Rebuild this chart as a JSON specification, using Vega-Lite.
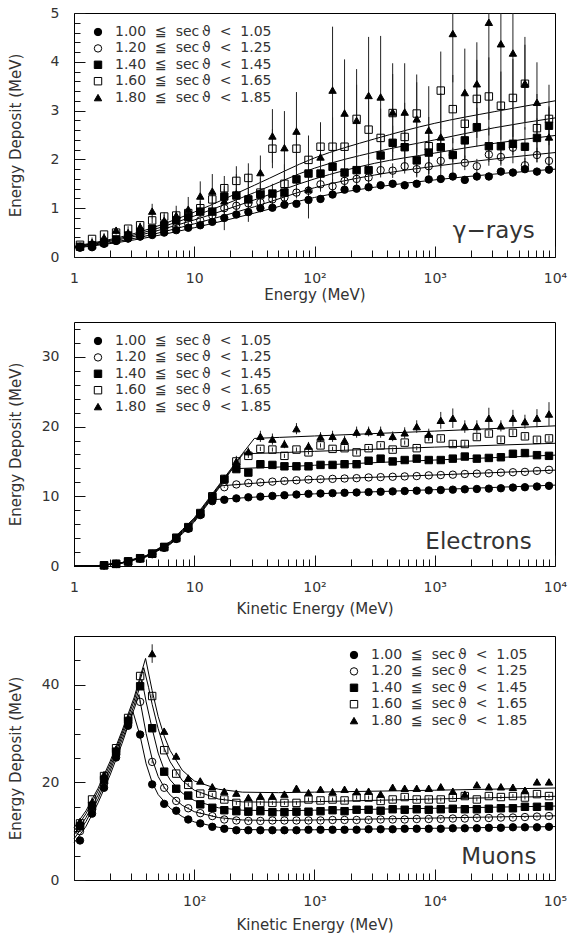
{
"$schema":"https://vega.github.io/schema/vega-lite/v6.json",
"padding":{"left":7,"top":5,"right":0,"bottom":0},
"spacing":18,
"config":{"view":{"stroke":"black","strokeWidth":1},"font":"DejaVu Sans",
"axis":{"labelFont":"DejaVu Sans","labelFontSize":14,"labelColor":"#333","titleFont":"DejaVu Sans","titleFontSize":15,"titleFontWeight":"normal","titleColor":"#333","tickColor":"#111","domain":false,"grid":false,"labelFlush":false,"labelOverlap":false},
"legend":{"title":null,"orient":"none","legendY":12,"padding":0,"symbolSize":55,"symbolStrokeWidth":1,"labelFont":"DejaVu Sans","labelFontSize":14,"labelColor":"#333","labelOffset":10,"rowPadding":2.4}},
"resolve":{"scale":{"shape":"independent","fill":"independent","stroke":"independent"}},
"datasets":{
"p1lines":[
{"s":1,"x":1,"y":0.18},{"s":1,"x":3.162,"y":0.35},{"s":1,"x":10,"y":0.6},{"s":1,"x":31.62,"y":0.9},{"s":1,"x":100,"y":1.22},{"s":1,"x":316.2,"y":1.43},{"s":1,"x":1000,"y":1.58},{"s":1,"x":3162,"y":1.7},{"s":1,"x":10000,"y":1.8},
{"s":2,"x":1,"y":0.19},{"s":2,"x":3.162,"y":0.38},{"s":2,"x":10,"y":0.68},{"s":2,"x":31.62,"y":1.03},{"s":2,"x":100,"y":1.42},{"s":2,"x":316.2,"y":1.68},{"s":2,"x":1000,"y":1.86},{"s":2,"x":3162,"y":2.01},{"s":2,"x":10000,"y":2.14},
{"s":3,"x":1,"y":0.2},{"s":3,"x":3.162,"y":0.42},{"s":3,"x":10,"y":0.76},{"s":3,"x":31.62,"y":1.17},{"s":3,"x":100,"y":1.6},{"s":3,"x":316.2,"y":1.92},{"s":3,"x":1000,"y":2.13},{"s":3,"x":3162,"y":2.33},{"s":3,"x":10000,"y":2.49},
{"s":4,"x":1,"y":0.21},{"s":4,"x":3.162,"y":0.45},{"s":4,"x":10,"y":0.84},{"s":4,"x":31.62,"y":1.32},{"s":4,"x":100,"y":1.82},{"s":4,"x":316.2,"y":2.15},{"s":4,"x":1000,"y":2.4},{"s":4,"x":3162,"y":2.65},{"s":4,"x":10000,"y":2.85},
{"s":5,"x":1,"y":0.22},{"s":5,"x":3.162,"y":0.48},{"s":5,"x":10,"y":0.92},{"s":5,"x":31.62,"y":1.47},{"s":5,"x":100,"y":2.03},{"s":5,"x":316.2,"y":2.42},{"s":5,"x":1000,"y":2.74},{"s":5,"x":3162,"y":2.98},{"s":5,"x":10000,"y":3.2}
],
"p1pts":[
{"s":1,"x":1.122,"y":0.19,"e":0.01},{"s":1,"x":1.413,"y":0.2,"e":0.01},{"s":1,"x":1.778,"y":0.27,"e":0.01},{"s":1,"x":2.239,"y":0.33,"e":0.02},{"s":1,"x":2.818,"y":0.38,"e":0.02},{"s":1,"x":3.548,"y":0.42,"e":0.02},{"s":1,"x":4.467,"y":0.45,"e":0.02},{"s":1,"x":5.623,"y":0.5,"e":0.03},{"s":1,"x":7.079,"y":0.55,"e":0.03},{"s":1,"x":8.913,"y":0.6,"e":0.03},
{"s":1,"x":11.22,"y":0.65,"e":0.04},{"s":1,"x":14.13,"y":0.72,"e":0.04},{"s":1,"x":17.78,"y":0.8,"e":0.25},{"s":1,"x":22.39,"y":0.87,"e":0.05},{"s":1,"x":28.18,"y":0.92,"e":0.05},{"s":1,"x":35.48,"y":1.0,"e":0.05},{"s":1,"x":44.67,"y":1.01,"e":0.06},{"s":1,"x":56.23,"y":1.07,"e":0.06},{"s":1,"x":70.79,"y":1.09,"e":0.06},{"s":1,"x":89.13,"y":1.17,"e":0.2},
{"s":1,"x":112.2,"y":1.19,"e":0.07},{"s":1,"x":141.3,"y":1.28,"e":0.07},{"s":1,"x":177.8,"y":1.38,"e":0.07},{"s":1,"x":223.9,"y":1.4,"e":0.07},{"s":1,"x":281.8,"y":1.43,"e":0.07},{"s":1,"x":354.8,"y":1.47,"e":0.07},{"s":1,"x":446.7,"y":1.5,"e":0.08},{"s":1,"x":562.3,"y":1.47,"e":0.08},{"s":1,"x":707.9,"y":1.5,"e":0.08},{"s":1,"x":891.3,"y":1.59,"e":0.08},
{"s":1,"x":1122,"y":1.6,"e":0.08},{"s":1,"x":1413,"y":1.65,"e":0.08},{"s":1,"x":1778,"y":1.58,"e":0.08},{"s":1,"x":2239,"y":1.65,"e":0.08},{"s":1,"x":2818,"y":1.65,"e":0.08},{"s":1,"x":3548,"y":1.75,"e":0.08},{"s":1,"x":4467,"y":1.73,"e":0.08},{"s":1,"x":5623,"y":1.8,"e":0.08},{"s":1,"x":7079,"y":1.75,"e":0.08},{"s":1,"x":8913,"y":1.79,"e":0.08},
{"s":2,"x":1.122,"y":0.21,"e":0.01},{"s":2,"x":1.413,"y":0.23,"e":0.01},{"s":2,"x":1.778,"y":0.28,"e":0.02},{"s":2,"x":2.239,"y":0.33,"e":0.02},{"s":2,"x":2.818,"y":0.38,"e":0.02},{"s":2,"x":3.548,"y":0.42,"e":0.03},{"s":2,"x":4.467,"y":0.48,"e":0.03},{"s":2,"x":5.623,"y":0.55,"e":0.04},{"s":2,"x":7.079,"y":0.62,"e":0.04},{"s":2,"x":8.913,"y":0.68,"e":0.05},
{"s":2,"x":11.22,"y":0.75,"e":0.05},{"s":2,"x":14.13,"y":0.85,"e":0.06},{"s":2,"x":17.78,"y":1.0,"e":0.08},{"s":2,"x":22.39,"y":1.05,"e":0.08},{"s":2,"x":28.18,"y":1.1,"e":0.1},{"s":2,"x":35.48,"y":1.12,"e":0.1},{"s":2,"x":44.67,"y":1.18,"e":0.1},{"s":2,"x":56.23,"y":1.22,"e":0.12},{"s":2,"x":70.79,"y":1.32,"e":0.12},{"s":2,"x":89.13,"y":1.36,"e":0.12},
{"s":2,"x":112.2,"y":1.49,"e":0.15},{"s":2,"x":141.3,"y":1.45,"e":0.15},{"s":2,"x":177.8,"y":1.56,"e":0.15},{"s":2,"x":223.9,"y":1.6,"e":0.15},{"s":2,"x":281.8,"y":1.63,"e":0.15},{"s":2,"x":354.8,"y":1.78,"e":0.15},{"s":2,"x":446.7,"y":1.77,"e":0.15},{"s":2,"x":562.3,"y":1.86,"e":0.15},{"s":2,"x":707.9,"y":1.8,"e":0.15},{"s":2,"x":891.3,"y":1.86,"e":0.15},
{"s":2,"x":1122,"y":1.97,"e":0.15},{"s":2,"x":1413,"y":2.09,"e":0.15},{"s":2,"x":1778,"y":1.93,"e":0.15},{"s":2,"x":2239,"y":1.86,"e":0.15},{"s":2,"x":2818,"y":2.1,"e":0.15},{"s":2,"x":3548,"y":2.05,"e":0.15},{"s":2,"x":4467,"y":2.24,"e":0.15},{"s":2,"x":5623,"y":1.88,"e":0.15},{"s":2,"x":7079,"y":2.09,"e":0.15},{"s":2,"x":8913,"y":1.97,"e":0.15},
{"s":3,"x":1.122,"y":0.21,"e":0.01},{"s":3,"x":1.413,"y":0.24,"e":0.02},{"s":3,"x":1.778,"y":0.3,"e":0.02},{"s":3,"x":2.239,"y":0.36,"e":0.03},{"s":3,"x":2.818,"y":0.44,"e":0.03},{"s":3,"x":3.548,"y":0.5,"e":0.04},{"s":3,"x":4.467,"y":0.58,"e":0.05},{"s":3,"x":5.623,"y":0.65,"e":0.06},{"s":3,"x":7.079,"y":0.75,"e":0.07},{"s":3,"x":8.913,"y":0.82,"e":0.08},
{"s":3,"x":11.22,"y":0.93,"e":0.1},{"s":3,"x":14.13,"y":0.93,"e":0.1},{"s":3,"x":17.78,"y":1.24,"e":0.15},{"s":3,"x":22.39,"y":1.26,"e":0.15},{"s":3,"x":28.18,"y":1.18,"e":0.15},{"s":3,"x":35.48,"y":1.28,"e":0.2},{"s":3,"x":44.67,"y":1.3,"e":0.2},{"s":3,"x":56.23,"y":1.32,"e":0.25},{"s":3,"x":70.79,"y":1.59,"e":0.25},{"s":3,"x":89.13,"y":1.71,"e":0.25},
{"s":3,"x":112.2,"y":1.71,"e":0.25},{"s":3,"x":141.3,"y":1.85,"e":0.3},{"s":3,"x":177.8,"y":1.73,"e":0.3},{"s":3,"x":223.9,"y":1.78,"e":0.3},{"s":3,"x":281.8,"y":1.78,"e":0.3},{"s":3,"x":354.8,"y":2.08,"e":0.35},{"s":3,"x":446.7,"y":2.34,"e":0.35},{"s":3,"x":562.3,"y":2.25,"e":0.35},{"s":3,"x":707.9,"y":1.98,"e":0.35},{"s":3,"x":891.3,"y":2.14,"e":0.35},
{"s":3,"x":1122,"y":2.25,"e":0.35},{"s":3,"x":1413,"y":2.09,"e":0.35},{"s":3,"x":1778,"y":2.39,"e":0.4},{"s":3,"x":2239,"y":2.66,"e":0.4},{"s":3,"x":2818,"y":2.27,"e":0.4},{"s":3,"x":3548,"y":2.27,"e":0.4},{"s":3,"x":4467,"y":2.32,"e":0.4},{"s":3,"x":5623,"y":2.26,"e":0.4},{"s":3,"x":7079,"y":2.44,"e":0.4},{"s":3,"x":8913,"y":2.69,"e":0.4},
{"s":4,"x":1.122,"y":0.25,"e":0.02},{"s":4,"x":1.413,"y":0.37,"e":0.03},{"s":4,"x":1.778,"y":0.46,"e":0.03},{"s":4,"x":2.239,"y":0.5,"e":0.04},{"s":4,"x":2.818,"y":0.58,"e":0.05},{"s":4,"x":3.548,"y":0.65,"e":0.05},{"s":4,"x":4.467,"y":0.75,"e":0.06},{"s":4,"x":5.623,"y":0.83,"e":0.08},{"s":4,"x":7.079,"y":0.85,"e":0.1},{"s":4,"x":8.913,"y":0.9,"e":0.12},
{"s":4,"x":11.22,"y":1.0,"e":0.15},{"s":4,"x":14.13,"y":1.18,"e":0.2},{"s":4,"x":17.78,"y":1.41,"e":0.25},{"s":4,"x":22.39,"y":1.56,"e":0.3},{"s":4,"x":28.18,"y":1.62,"e":0.3},{"s":4,"x":35.48,"y":1.32,"e":0.3},{"s":4,"x":44.67,"y":2.22,"e":0.4},{"s":4,"x":56.23,"y":1.5,"e":0.4},{"s":4,"x":70.79,"y":2.22,"e":0.45},{"s":4,"x":89.13,"y":1.99,"e":0.5},
{"s":4,"x":112.2,"y":2.26,"e":0.5},{"s":4,"x":141.3,"y":2.26,"e":0.6},{"s":4,"x":177.8,"y":2.26,"e":0.6},{"s":4,"x":223.9,"y":2.83,"e":0.7},{"s":4,"x":281.8,"y":2.61,"e":0.6},{"s":4,"x":354.8,"y":2.44,"e":0.6},{"s":4,"x":446.7,"y":2.95,"e":0.8},{"s":4,"x":562.3,"y":2.46,"e":0.7},{"s":4,"x":707.9,"y":2.94,"e":0.8},{"s":4,"x":891.3,"y":2.27,"e":0.6},
{"s":4,"x":1122,"y":3.41,"e":0.8},{"s":4,"x":1413,"y":3.03,"e":0.7},{"s":4,"x":1778,"y":2.73,"e":0.7},{"s":4,"x":2239,"y":3.24,"e":0.8},{"s":4,"x":2818,"y":3.29,"e":0.8},{"s":4,"x":3548,"y":3.1,"e":0.7},{"s":4,"x":4467,"y":3.26,"e":0.8},{"s":4,"x":5623,"y":3.55,"e":0.8},{"s":4,"x":7079,"y":2.64,"e":0.7},{"s":4,"x":8913,"y":2.83,"e":0.7},
{"s":5,"x":1.122,"y":0.22,"e":0.03},{"s":5,"x":1.413,"y":0.3,"e":0.03},{"s":5,"x":1.778,"y":0.4,"e":0.04},{"s":5,"x":2.239,"y":0.55,"e":0.05},{"s":5,"x":2.818,"y":0.5,"e":0.06},{"s":5,"x":3.548,"y":0.62,"e":0.08},{"s":5,"x":4.467,"y":0.94,"e":0.15},{"s":5,"x":5.623,"y":0.75,"e":0.12},{"s":5,"x":7.079,"y":0.85,"e":0.2},{"s":5,"x":8.913,"y":0.98,"e":0.25},
{"s":5,"x":11.22,"y":1.25,"e":0.3},{"s":5,"x":14.13,"y":1.35,"e":0.35},{"s":5,"x":17.78,"y":1.15,"e":0.3},{"s":5,"x":22.39,"y":1.3,"e":0.4},{"s":5,"x":28.18,"y":1.22,"e":0.5},{"s":5,"x":35.48,"y":1.73,"e":0.35},{"s":5,"x":44.67,"y":2.48,"e":0.55},{"s":5,"x":56.23,"y":2.24,"e":0.75},{"s":5,"x":70.79,"y":2.58,"e":0.8},{"s":5,"x":89.13,"y":1.39,"e":0.6},
{"s":5,"x":112.2,"y":2.05,"e":0.7},{"s":5,"x":141.3,"y":3.42,"e":1.3},{"s":5,"x":177.8,"y":2.95,"e":1.1},{"s":5,"x":223.9,"y":2.8,"e":1.05},{"s":5,"x":281.8,"y":3.31,"e":1.2},{"s":5,"x":354.8,"y":3.28,"e":1.25},{"s":5,"x":446.7,"y":2.97,"e":1.0},{"s":5,"x":562.3,"y":2.97,"e":1.0},{"s":5,"x":707.9,"y":2.83,"e":0.75},{"s":5,"x":891.3,"y":2.6,"e":0.9},
{"s":5,"x":1122,"y":2.46,"e":0.9},{"s":5,"x":1413,"y":4.58,"e":1.0},{"s":5,"x":1778,"y":3.37,"e":0.9},{"s":5,"x":2239,"y":3.55,"e":0.85},{"s":5,"x":2818,"y":4.81,"e":2.0},{"s":5,"x":3548,"y":4.37,"e":1.7},{"s":5,"x":4467,"y":4.18,"e":1.9},{"s":5,"x":5623,"y":3.56,"e":0.95},{"s":5,"x":7079,"y":3.17,"e":0.82},{"s":5,"x":8913,"y":2.46,"e":0.6}
],
"p2lines":[
{"s":1,"x":1,"y":0},{"s":1,"x":1.585,"y":0.04},{"s":1,"x":2.512,"y":0.4},{"s":1,"x":3.981,"y":1.3},{"s":1,"x":6.31,"y":3.1},{"s":1,"x":7.943,"y":4.6},{"s":1,"x":10,"y":6.3},{"s":1,"x":12.59,"y":8.6},{"s":1,"x":13.8,"y":9.5},{"s":1,"x":51.3,"y":10.1},{"s":1,"x":100,"y":10.35},{"s":1,"x":1000,"y":10.95},{"s":1,"x":10000,"y":11.6},
{"s":2,"x":1,"y":0},{"s":2,"x":1.585,"y":0.05},{"s":2,"x":2.512,"y":0.43},{"s":2,"x":3.981,"y":1.35},{"s":2,"x":6.31,"y":3.2},{"s":2,"x":7.943,"y":4.75},{"s":2,"x":10,"y":6.45},{"s":2,"x":12.59,"y":8.75},{"s":2,"x":15.85,"y":11.05},{"s":2,"x":16.6,"y":11.5},{"s":2,"x":51.3,"y":12.15},{"s":2,"x":100,"y":12.42},{"s":2,"x":1000,"y":13.05},{"s":2,"x":10000,"y":13.75},
{"s":3,"x":1,"y":0},{"s":3,"x":1.585,"y":0.05},{"s":3,"x":2.512,"y":0.45},{"s":3,"x":3.981,"y":1.4},{"s":3,"x":6.31,"y":3.3},{"s":3,"x":7.943,"y":4.9},{"s":3,"x":10,"y":6.6},{"s":3,"x":12.59,"y":8.9},{"s":3,"x":15.85,"y":11.2},{"s":3,"x":19.95,"y":13.5},{"s":3,"x":20.9,"y":13.95},{"s":3,"x":51.3,"y":14.2},{"s":3,"x":100,"y":14.45},{"s":3,"x":1000,"y":15.2},{"s":3,"x":10000,"y":15.9},
{"s":4,"x":1,"y":0},{"s":4,"x":1.585,"y":0.06},{"s":4,"x":2.512,"y":0.48},{"s":4,"x":3.981,"y":1.45},{"s":4,"x":6.31,"y":3.4},{"s":4,"x":7.943,"y":5.05},{"s":4,"x":10,"y":6.75},{"s":4,"x":12.59,"y":9.05},{"s":4,"x":15.85,"y":11.35},{"s":4,"x":19.95,"y":13.65},{"s":4,"x":25.12,"y":15.95},{"s":4,"x":25.7,"y":16.1},{"s":4,"x":51.3,"y":16.25},{"s":4,"x":100,"y":16.45},{"s":4,"x":1000,"y":17.05},{"s":4,"x":10000,"y":17.6},
{"s":5,"x":1,"y":0},{"s":5,"x":1.585,"y":0.06},{"s":5,"x":2.512,"y":0.5},{"s":5,"x":3.981,"y":1.5},{"s":5,"x":6.31,"y":3.5},{"s":5,"x":7.943,"y":5.2},{"s":5,"x":10,"y":6.9},{"s":5,"x":12.59,"y":9.2},{"s":5,"x":15.85,"y":11.5},{"s":5,"x":19.95,"y":13.8},{"s":5,"x":25.12,"y":16.1},{"s":5,"x":31.62,"y":18.3},{"s":5,"x":51.3,"y":18.45},{"s":5,"x":100,"y":18.65},{"s":5,"x":1000,"y":19.35},{"s":5,"x":10000,"y":20.1}
],
"p2pts":[
{"s":1,"x":1.778,"y":0.1,"e":0.05},{"s":1,"x":2.239,"y":0.29,"e":0.05},{"s":1,"x":2.818,"y":0.63,"e":0.05},{"s":1,"x":3.548,"y":1.07,"e":0.05},{"s":1,"x":4.467,"y":1.7,"e":0.1},{"s":1,"x":5.623,"y":2.62,"e":0.1},{"s":1,"x":7.079,"y":3.88,"e":0.1},{"s":1,"x":8.913,"y":5.34,"e":0.1},{"s":1,"x":11.22,"y":7.3,"e":0.1},
{"s":1,"x":14.13,"y":9.3,"e":0.1},{"s":1,"x":17.78,"y":9.5,"e":0.1},{"s":1,"x":22.39,"y":9.7,"e":0.1},{"s":1,"x":28.18,"y":9.85,"e":0.1},{"s":1,"x":35.48,"y":9.95,"e":0.1},{"s":1,"x":44.67,"y":10.05,"e":0.1},{"s":1,"x":56.23,"y":10.15,"e":0.1},{"s":1,"x":70.79,"y":10.25,"e":0.1},{"s":1,"x":89.13,"y":10.35,"e":0.1},
{"s":1,"x":112.2,"y":10.4,"e":0.1},{"s":1,"x":141.3,"y":10.45,"e":0.1},{"s":1,"x":177.8,"y":10.5,"e":0.1},{"s":1,"x":223.9,"y":10.55,"e":0.1},{"s":1,"x":281.8,"y":10.6,"e":0.1},{"s":1,"x":354.8,"y":10.65,"e":0.1},{"s":1,"x":446.7,"y":10.7,"e":0.1},{"s":1,"x":562.3,"y":10.75,"e":0.1},{"s":1,"x":707.9,"y":10.8,"e":0.1},{"s":1,"x":891.3,"y":10.85,"e":0.1},
{"s":1,"x":1122,"y":10.9,"e":0.1},{"s":1,"x":1413,"y":10.95,"e":0.1},{"s":1,"x":1778,"y":11.0,"e":0.1},{"s":1,"x":2239,"y":11.05,"e":0.1},{"s":1,"x":2818,"y":11.1,"e":0.1},{"s":1,"x":3548,"y":11.15,"e":0.1},{"s":1,"x":4467,"y":11.25,"e":0.1},{"s":1,"x":5623,"y":11.3,"e":0.1},{"s":1,"x":7079,"y":11.4,"e":0.1},{"s":1,"x":8913,"y":11.5,"e":0.1},
{"s":2,"x":1.778,"y":0.1,"e":0.05},{"s":2,"x":2.239,"y":0.3,"e":0.05},{"s":2,"x":2.818,"y":0.64,"e":0.05},{"s":2,"x":3.548,"y":1.08,"e":0.05},{"s":2,"x":4.467,"y":1.72,"e":0.1},{"s":2,"x":5.623,"y":2.66,"e":0.1},{"s":2,"x":7.079,"y":3.94,"e":0.1},{"s":2,"x":8.913,"y":5.42,"e":0.1},{"s":2,"x":11.22,"y":7.4,"e":0.1},
{"s":2,"x":14.13,"y":9.8,"e":0.1},{"s":2,"x":17.78,"y":11.3,"e":0.1},{"s":2,"x":22.39,"y":11.7,"e":0.1},{"s":2,"x":28.18,"y":11.9,"e":0.1},{"s":2,"x":35.48,"y":12.0,"e":0.1},{"s":2,"x":44.67,"y":12.1,"e":0.1},{"s":2,"x":56.23,"y":12.2,"e":0.1},{"s":2,"x":70.79,"y":12.3,"e":0.1},{"s":2,"x":89.13,"y":12.4,"e":0.1},
{"s":2,"x":112.2,"y":12.45,"e":0.1},{"s":2,"x":141.3,"y":12.5,"e":0.1},{"s":2,"x":177.8,"y":12.55,"e":0.1},{"s":2,"x":223.9,"y":12.6,"e":0.1},{"s":2,"x":281.8,"y":12.7,"e":0.1},{"s":2,"x":354.8,"y":12.75,"e":0.1},{"s":2,"x":446.7,"y":12.8,"e":0.1},{"s":2,"x":562.3,"y":12.85,"e":0.1},{"s":2,"x":707.9,"y":12.9,"e":0.1},{"s":2,"x":891.3,"y":13.0,"e":0.1},
{"s":2,"x":1122,"y":13.05,"e":0.1},{"s":2,"x":1413,"y":13.1,"e":0.1},{"s":2,"x":1778,"y":13.2,"e":0.1},{"s":2,"x":2239,"y":13.25,"e":0.1},{"s":2,"x":2818,"y":13.3,"e":0.1},{"s":2,"x":3548,"y":13.4,"e":0.1},{"s":2,"x":4467,"y":13.45,"e":0.1},{"s":2,"x":5623,"y":13.5,"e":0.1},{"s":2,"x":7079,"y":13.65,"e":0.1},{"s":2,"x":8913,"y":13.8,"e":0.1},
{"s":3,"x":1.778,"y":0.1,"e":0.05},{"s":3,"x":2.239,"y":0.3,"e":0.05},{"s":3,"x":2.818,"y":0.65,"e":0.05},{"s":3,"x":3.548,"y":1.1,"e":0.05},{"s":3,"x":4.467,"y":1.75,"e":0.1},{"s":3,"x":5.623,"y":2.7,"e":0.1},{"s":3,"x":7.079,"y":4.0,"e":0.1},{"s":3,"x":8.913,"y":5.5,"e":0.1},{"s":3,"x":11.22,"y":7.5,"e":0.1},
{"s":3,"x":14.13,"y":9.9,"e":0.15},{"s":3,"x":17.78,"y":12.4,"e":0.15},{"s":3,"x":22.39,"y":13.9,"e":0.15},{"s":3,"x":28.18,"y":13.4,"e":0.15},{"s":3,"x":35.48,"y":14.6,"e":0.15},{"s":3,"x":44.67,"y":14.5,"e":0.15},{"s":3,"x":56.23,"y":14.3,"e":0.15},{"s":3,"x":70.79,"y":14.3,"e":0.15},{"s":3,"x":89.13,"y":14.3,"e":0.15},
{"s":3,"x":112.2,"y":14.5,"e":0.15},{"s":3,"x":141.3,"y":14.5,"e":0.15},{"s":3,"x":177.8,"y":14.6,"e":0.15},{"s":3,"x":223.9,"y":14.6,"e":0.15},{"s":3,"x":281.8,"y":15.1,"e":0.15},{"s":3,"x":354.8,"y":15.4,"e":0.15},{"s":3,"x":446.7,"y":15.0,"e":0.15},{"s":3,"x":562.3,"y":15.2,"e":0.15},{"s":3,"x":707.9,"y":15.4,"e":0.15},{"s":3,"x":891.3,"y":15.2,"e":0.15},
{"s":3,"x":1122,"y":15.2,"e":0.2},{"s":3,"x":1413,"y":15.4,"e":0.2},{"s":3,"x":1778,"y":15.7,"e":0.2},{"s":3,"x":2239,"y":15.4,"e":0.2},{"s":3,"x":2818,"y":15.5,"e":0.2},{"s":3,"x":3548,"y":15.6,"e":0.2},{"s":3,"x":4467,"y":16.1,"e":0.2},{"s":3,"x":5623,"y":16.2,"e":0.2},{"s":3,"x":7079,"y":15.9,"e":0.2},{"s":3,"x":8913,"y":15.8,"e":0.2},
{"s":4,"x":1.778,"y":0.1,"e":0.05},{"s":4,"x":2.239,"y":0.31,"e":0.05},{"s":4,"x":2.818,"y":0.66,"e":0.05},{"s":4,"x":3.548,"y":1.12,"e":0.05},{"s":4,"x":4.467,"y":1.78,"e":0.1},{"s":4,"x":5.623,"y":2.74,"e":0.1},{"s":4,"x":7.079,"y":4.06,"e":0.1},{"s":4,"x":8.913,"y":5.58,"e":0.1},{"s":4,"x":11.22,"y":7.6,"e":0.1},
{"s":4,"x":14.13,"y":10.0,"e":0.2},{"s":4,"x":17.78,"y":12.5,"e":0.2},{"s":4,"x":22.39,"y":15.0,"e":0.3},{"s":4,"x":28.18,"y":15.8,"e":0.3},{"s":4,"x":35.48,"y":16.8,"e":0.3},{"s":4,"x":44.67,"y":16.7,"e":0.3},{"s":4,"x":56.23,"y":15.8,"e":0.3},{"s":4,"x":70.79,"y":16.7,"e":0.3},{"s":4,"x":89.13,"y":16.3,"e":0.3},
{"s":4,"x":112.2,"y":17.3,"e":0.3},{"s":4,"x":141.3,"y":16.8,"e":0.3},{"s":4,"x":177.8,"y":16.9,"e":0.3},{"s":4,"x":223.9,"y":16.3,"e":0.3},{"s":4,"x":281.8,"y":16.9,"e":0.3},{"s":4,"x":354.8,"y":17.3,"e":0.3},{"s":4,"x":446.7,"y":16.7,"e":0.3},{"s":4,"x":562.3,"y":17.7,"e":0.3},{"s":4,"x":707.9,"y":16.9,"e":0.3},{"s":4,"x":891.3,"y":18.2,"e":0.3},
{"s":4,"x":1122,"y":18.3,"e":0.4},{"s":4,"x":1413,"y":17.5,"e":0.4},{"s":4,"x":1778,"y":17.5,"e":0.4},{"s":4,"x":2239,"y":18.5,"e":0.4},{"s":4,"x":2818,"y":19.0,"e":0.4},{"s":4,"x":3548,"y":18.1,"e":0.4},{"s":4,"x":4467,"y":19.1,"e":0.4},{"s":4,"x":5623,"y":18.6,"e":0.4},{"s":4,"x":7079,"y":18.1,"e":0.4},{"s":4,"x":8913,"y":18.3,"e":0.4},
{"s":5,"x":1.778,"y":0.11,"e":0.05},{"s":5,"x":2.239,"y":0.31,"e":0.05},{"s":5,"x":2.818,"y":0.67,"e":0.05},{"s":5,"x":3.548,"y":1.13,"e":0.05},{"s":5,"x":4.467,"y":1.8,"e":0.1},{"s":5,"x":5.623,"y":2.78,"e":0.1},{"s":5,"x":7.079,"y":4.12,"e":0.1},{"s":5,"x":8.913,"y":5.66,"e":0.1},{"s":5,"x":11.22,"y":7.7,"e":0.1},
{"s":5,"x":14.13,"y":10.1,"e":0.2},{"s":5,"x":17.78,"y":12.6,"e":0.4},{"s":5,"x":22.39,"y":15.0,"e":0.8},{"s":5,"x":28.18,"y":16.4,"e":0.6},{"s":5,"x":35.48,"y":18.6,"e":0.8},{"s":5,"x":44.67,"y":18.2,"e":0.8},{"s":5,"x":56.23,"y":17.5,"e":0.6},{"s":5,"x":70.79,"y":19.7,"e":0.8},{"s":5,"x":89.13,"y":17.2,"e":0.6},
{"s":5,"x":112.2,"y":18.5,"e":0.7},{"s":5,"x":141.3,"y":18.6,"e":0.8},{"s":5,"x":177.8,"y":18.0,"e":0.7},{"s":5,"x":223.9,"y":19.2,"e":0.8},{"s":5,"x":281.8,"y":19.3,"e":0.7},{"s":5,"x":354.8,"y":19.2,"e":0.8},{"s":5,"x":446.7,"y":18.6,"e":0.7},{"s":5,"x":562.3,"y":19.1,"e":0.8},{"s":5,"x":707.9,"y":20.0,"e":0.9},{"s":5,"x":891.3,"y":18.9,"e":0.8},
{"s":5,"x":1122,"y":20.9,"e":1.2},{"s":5,"x":1413,"y":21.2,"e":1.4},{"s":5,"x":1778,"y":20.0,"e":0.9},{"s":5,"x":2239,"y":20.0,"e":0.9},{"s":5,"x":2818,"y":21.2,"e":1.5},{"s":5,"x":3548,"y":20.1,"e":0.8},{"s":5,"x":4467,"y":21.2,"e":1.2},{"s":5,"x":5623,"y":20.7,"e":1.0},{"s":5,"x":7079,"y":21.2,"e":1.3},{"s":5,"x":8913,"y":21.8,"e":1.7}
],
"p3lines":[
{"s":1,"x":10,"y":7.6},{"s":1,"x":12.59,"y":11.0},{"s":1,"x":15.85,"y":15.8},{"s":1,"x":19.95,"y":21.5},{"s":1,"x":25.12,"y":28.0},{"s":1,"x":28.18,"y":31.6},{"s":1,"x":30.9,"y":34.5},{"s":1,"x":35.48,"y":29.5},{"s":1,"x":39.81,"y":23.8},{"s":1,"x":44.67,"y":20.0},{"s":1,"x":50.12,"y":17.5},{"s":1,"x":63.1,"y":14.7},{"s":1,"x":79.43,"y":13.0},{"s":1,"x":100,"y":11.9},{"s":1,"x":158.5,"y":10.8},{"s":1,"x":251.2,"y":10.35},{"s":1,"x":501.2,"y":10.25},{"s":1,"x":1000,"y":10.3},{"s":1,"x":10000,"y":10.6},{"s":1,"x":100000,"y":10.95},
{"s":2,"x":10,"y":8.4},{"s":2,"x":12.59,"y":12.0},{"s":2,"x":15.85,"y":16.6},{"s":2,"x":19.95,"y":22.3},{"s":2,"x":25.12,"y":28.8},{"s":2,"x":31.62,"y":35.0},{"s":2,"x":34.67,"y":38.0},{"s":2,"x":39.81,"y":30.0},{"s":2,"x":44.67,"y":24.8},{"s":2,"x":50.12,"y":21.2},{"s":2,"x":56.23,"y":19.0},{"s":2,"x":63.1,"y":17.4},{"s":2,"x":79.43,"y":15.3},{"s":2,"x":100,"y":14.0},{"s":2,"x":158.5,"y":12.8},{"s":2,"x":251.2,"y":12.3},{"s":2,"x":501.2,"y":12.2},{"s":2,"x":1000,"y":12.3},{"s":2,"x":10000,"y":12.7},{"s":2,"x":100000,"y":13.15},
{"s":3,"x":10,"y":9.2},{"s":3,"x":12.59,"y":12.8},{"s":3,"x":15.85,"y":17.4},{"s":3,"x":19.95,"y":23.0},{"s":3,"x":25.12,"y":29.5},{"s":3,"x":31.62,"y":35.8},{"s":3,"x":36.73,"y":41.0},{"s":3,"x":39.81,"y":36.5},{"s":3,"x":44.67,"y":31.0},{"s":3,"x":50.12,"y":26.0},{"s":3,"x":56.23,"y":22.6},{"s":3,"x":63.1,"y":20.5},{"s":3,"x":79.43,"y":17.8},{"s":3,"x":100,"y":16.3},{"s":3,"x":158.5,"y":14.8},{"s":3,"x":251.2,"y":14.3},{"s":3,"x":501.2,"y":14.2},{"s":3,"x":1000,"y":14.3},{"s":3,"x":10000,"y":14.7},{"s":3,"x":100000,"y":15.15},
{"s":4,"x":10,"y":10.0},{"s":4,"x":12.59,"y":13.6},{"s":4,"x":15.85,"y":18.2},{"s":4,"x":19.95,"y":23.7},{"s":4,"x":25.12,"y":30.1},{"s":4,"x":31.62,"y":36.7},{"s":4,"x":38.02,"y":43.5},{"s":4,"x":41.69,"y":39.5},{"s":4,"x":44.67,"y":36.0},{"s":4,"x":50.12,"y":31.0},{"s":4,"x":56.23,"y":27.0},{"s":4,"x":63.1,"y":24.2},{"s":4,"x":79.43,"y":20.4},{"s":4,"x":100,"y":18.4},{"s":4,"x":158.5,"y":16.6},{"s":4,"x":251.2,"y":16.0},{"s":4,"x":501.2,"y":15.95},{"s":4,"x":1000,"y":16.05},{"s":4,"x":10000,"y":16.6},{"s":4,"x":100000,"y":17.15},
{"s":5,"x":10,"y":10.7},{"s":5,"x":12.59,"y":14.2},{"s":5,"x":15.85,"y":18.8},{"s":5,"x":19.95,"y":24.3},{"s":5,"x":25.12,"y":30.6},{"s":5,"x":31.62,"y":37.4},{"s":5,"x":39.36,"y":45.4},{"s":5,"x":44.67,"y":38.8},{"s":5,"x":50.12,"y":33.5},{"s":5,"x":56.23,"y":29.5},{"s":5,"x":63.1,"y":26.5},{"s":5,"x":79.43,"y":22.5},{"s":5,"x":100,"y":20.3},{"s":5,"x":158.5,"y":18.6},{"s":5,"x":251.2,"y":18.0},{"s":5,"x":501.2,"y":17.9},{"s":5,"x":1000,"y":18.0},{"s":5,"x":10000,"y":18.4},{"s":5,"x":100000,"y":18.85}
],
"p3pts":[
{"s":1,"x":11.22,"y":8.1,"e":0.2},{"s":1,"x":14.13,"y":13.6,"e":0.2},{"s":1,"x":17.78,"y":18.9,"e":0.2},{"s":1,"x":22.39,"y":25.1,"e":0.3},{"s":1,"x":28.18,"y":31.6,"e":0.3},{"s":1,"x":35.48,"y":29.8,"e":0.3},{"s":1,"x":44.67,"y":19.6,"e":0.2},{"s":1,"x":56.23,"y":15.6,"e":0.2},{"s":1,"x":70.79,"y":14.2,"e":0.2},{"s":1,"x":89.13,"y":12.4,"e":0.2},
{"s":1,"x":112.2,"y":11.6,"e":0.2},{"s":1,"x":141.3,"y":10.9,"e":0.2},{"s":1,"x":177.8,"y":10.5,"e":0.2},{"s":1,"x":223.9,"y":10.2,"e":0.2},{"s":1,"x":281.8,"y":10.2,"e":0.2},{"s":1,"x":354.8,"y":10.2,"e":0.2},{"s":1,"x":446.7,"y":10.2,"e":0.2},{"s":1,"x":562.3,"y":10.2,"e":0.2},{"s":1,"x":707.9,"y":10.2,"e":0.2},{"s":1,"x":891.3,"y":10.3,"e":0.2},
{"s":1,"x":1122,"y":10.3,"e":0.2},{"s":1,"x":1413,"y":10.3,"e":0.2},{"s":1,"x":1778,"y":10.3,"e":0.2},{"s":1,"x":2239,"y":10.3,"e":0.2},{"s":1,"x":2818,"y":10.4,"e":0.2},{"s":1,"x":3548,"y":10.4,"e":0.2},{"s":1,"x":4467,"y":10.4,"e":0.2},{"s":1,"x":5623,"y":10.5,"e":0.2},{"s":1,"x":7079,"y":10.5,"e":0.2},{"s":1,"x":8913,"y":10.5,"e":0.2},
{"s":1,"x":11220,"y":10.5,"e":0.2},{"s":1,"x":14130,"y":10.6,"e":0.2},{"s":1,"x":17780,"y":10.6,"e":0.2},{"s":1,"x":22390,"y":10.6,"e":0.2},{"s":1,"x":28180,"y":10.7,"e":0.2},{"s":1,"x":35480,"y":10.7,"e":0.2},{"s":1,"x":44670,"y":10.8,"e":0.2},{"s":1,"x":56230,"y":10.8,"e":0.2},{"s":1,"x":70790,"y":10.8,"e":0.2},{"s":1,"x":89130,"y":10.9,"e":0.2},
{"s":2,"x":11.22,"y":10.0,"e":0.2},{"s":2,"x":14.13,"y":14.4,"e":0.2},{"s":2,"x":17.78,"y":19.8,"e":0.2},{"s":2,"x":22.39,"y":25.8,"e":0.3},{"s":2,"x":28.18,"y":32.2,"e":0.3},{"s":2,"x":35.48,"y":36.5,"e":0.3},{"s":2,"x":44.67,"y":24.2,"e":0.3},{"s":2,"x":56.23,"y":18.9,"e":0.2},{"s":2,"x":70.79,"y":16.2,"e":0.2},{"s":2,"x":89.13,"y":14.7,"e":0.2},
{"s":2,"x":112.2,"y":13.7,"e":0.2},{"s":2,"x":141.3,"y":13.1,"e":0.2},{"s":2,"x":177.8,"y":12.4,"e":0.2},{"s":2,"x":223.9,"y":12.2,"e":0.2},{"s":2,"x":281.8,"y":12.1,"e":0.2},{"s":2,"x":354.8,"y":12.1,"e":0.2},{"s":2,"x":446.7,"y":12.2,"e":0.2},{"s":2,"x":562.3,"y":12.2,"e":0.2},{"s":2,"x":707.9,"y":12.2,"e":0.2},{"s":2,"x":891.3,"y":12.2,"e":0.2},
{"s":2,"x":1122,"y":12.2,"e":0.2},{"s":2,"x":1413,"y":12.3,"e":0.2},{"s":2,"x":1778,"y":12.3,"e":0.2},{"s":2,"x":2239,"y":12.3,"e":0.2},{"s":2,"x":2818,"y":12.3,"e":0.2},{"s":2,"x":3548,"y":12.4,"e":0.2},{"s":2,"x":4467,"y":12.4,"e":0.2},{"s":2,"x":5623,"y":12.4,"e":0.2},{"s":2,"x":7079,"y":12.5,"e":0.2},{"s":2,"x":8913,"y":12.5,"e":0.2},
{"s":2,"x":11220,"y":12.5,"e":0.2},{"s":2,"x":14130,"y":12.6,"e":0.2},{"s":2,"x":17780,"y":12.6,"e":0.2},{"s":2,"x":22390,"y":12.7,"e":0.2},{"s":2,"x":28180,"y":12.7,"e":0.2},{"s":2,"x":35480,"y":12.8,"e":0.2},{"s":2,"x":44670,"y":12.8,"e":0.2},{"s":2,"x":56230,"y":12.9,"e":0.2},{"s":2,"x":70790,"y":13.0,"e":0.2},{"s":2,"x":89130,"y":13.1,"e":0.2},
{"s":3,"x":11.22,"y":11.0,"e":0.3},{"s":3,"x":14.13,"y":15.2,"e":0.3},{"s":3,"x":17.78,"y":20.5,"e":0.3},{"s":3,"x":22.39,"y":26.3,"e":0.3},{"s":3,"x":28.18,"y":32.6,"e":0.3},{"s":3,"x":35.48,"y":39.7,"e":0.4},{"s":3,"x":44.67,"y":31.1,"e":0.3},{"s":3,"x":56.23,"y":22.2,"e":0.3},{"s":3,"x":70.79,"y":18.7,"e":0.3},{"s":3,"x":89.13,"y":17.3,"e":0.3},
{"s":3,"x":112.2,"y":15.5,"e":0.3},{"s":3,"x":141.3,"y":14.8,"e":0.3},{"s":3,"x":177.8,"y":14.3,"e":0.3},{"s":3,"x":223.9,"y":14.1,"e":0.3},{"s":3,"x":281.8,"y":14.0,"e":0.3},{"s":3,"x":354.8,"y":14.1,"e":0.3},{"s":3,"x":446.7,"y":13.9,"e":0.3},{"s":3,"x":562.3,"y":13.9,"e":0.3},{"s":3,"x":707.9,"y":14.0,"e":0.3},{"s":3,"x":891.3,"y":14.0,"e":0.3},
{"s":3,"x":1122,"y":14.1,"e":0.3},{"s":3,"x":1413,"y":14.3,"e":0.3},{"s":3,"x":1778,"y":14.1,"e":0.3},{"s":3,"x":2239,"y":14.4,"e":0.3},{"s":3,"x":2818,"y":14.4,"e":0.3},{"s":3,"x":3548,"y":14.2,"e":0.3},{"s":3,"x":4467,"y":14.5,"e":0.3},{"s":3,"x":5623,"y":14.4,"e":0.3},{"s":3,"x":7079,"y":14.5,"e":0.3},{"s":3,"x":8913,"y":14.4,"e":0.3},
{"s":3,"x":11220,"y":14.5,"e":0.3},{"s":3,"x":14130,"y":14.6,"e":0.3},{"s":3,"x":17780,"y":14.5,"e":0.3},{"s":3,"x":22390,"y":14.5,"e":0.3},{"s":3,"x":28180,"y":14.6,"e":0.3},{"s":3,"x":35480,"y":14.7,"e":0.3},{"s":3,"x":44670,"y":14.7,"e":0.3},{"s":3,"x":56230,"y":15.0,"e":0.3},{"s":3,"x":70790,"y":15.0,"e":0.3},{"s":3,"x":89130,"y":15.1,"e":0.3},
{"s":4,"x":11.22,"y":11.6,"e":0.4},{"s":4,"x":14.13,"y":16.5,"e":0.4},{"s":4,"x":17.78,"y":21.3,"e":0.4},{"s":4,"x":22.39,"y":27.0,"e":0.4},{"s":4,"x":28.18,"y":33.2,"e":0.4},{"s":4,"x":35.48,"y":41.8,"e":0.5},{"s":4,"x":44.67,"y":37.7,"e":0.5},{"s":4,"x":56.23,"y":26.6,"e":0.4},{"s":4,"x":70.79,"y":21.8,"e":0.4},{"s":4,"x":89.13,"y":19.5,"e":0.4},
{"s":4,"x":112.2,"y":17.7,"e":0.4},{"s":4,"x":141.3,"y":17.4,"e":0.4},{"s":4,"x":177.8,"y":16.5,"e":0.4},{"s":4,"x":223.9,"y":15.8,"e":0.4},{"s":4,"x":281.8,"y":15.5,"e":0.4},{"s":4,"x":354.8,"y":15.8,"e":0.4},{"s":4,"x":446.7,"y":15.8,"e":0.4},{"s":4,"x":562.3,"y":15.8,"e":0.4},{"s":4,"x":707.9,"y":15.8,"e":0.4},{"s":4,"x":891.3,"y":16.5,"e":0.4},
{"s":4,"x":1122,"y":16.3,"e":0.4},{"s":4,"x":1413,"y":16.5,"e":0.4},{"s":4,"x":1778,"y":16.3,"e":0.4},{"s":4,"x":2239,"y":16.9,"e":0.4},{"s":4,"x":2818,"y":16.9,"e":0.4},{"s":4,"x":3548,"y":16.2,"e":0.4},{"s":4,"x":4467,"y":16.5,"e":0.4},{"s":4,"x":5623,"y":17.0,"e":0.4},{"s":4,"x":7079,"y":16.5,"e":0.4},{"s":4,"x":8913,"y":16.5,"e":0.4},
{"s":4,"x":11220,"y":16.5,"e":0.4},{"s":4,"x":14130,"y":16.9,"e":0.4},{"s":4,"x":17780,"y":17.2,"e":0.4},{"s":4,"x":22390,"y":16.5,"e":0.4},{"s":4,"x":28180,"y":17.2,"e":0.4},{"s":4,"x":35480,"y":17.0,"e":0.4},{"s":4,"x":44670,"y":17.2,"e":0.4},{"s":4,"x":56230,"y":16.9,"e":0.4},{"s":4,"x":70790,"y":17.6,"e":0.4},{"s":4,"x":89130,"y":17.2,"e":0.4},
{"s":5,"x":11.22,"y":12.0,"e":0.5},{"s":5,"x":14.13,"y":16.0,"e":0.5},{"s":5,"x":17.78,"y":21.6,"e":0.5},{"s":5,"x":22.39,"y":26.8,"e":0.5},{"s":5,"x":28.18,"y":33.0,"e":0.5},{"s":5,"x":44.67,"y":46.4,"e":1.9},{"s":5,"x":56.23,"y":30.5,"e":0.6},{"s":5,"x":70.79,"y":25.4,"e":0.6},{"s":5,"x":89.13,"y":20.9,"e":0.6},
{"s":5,"x":112.2,"y":20.3,"e":0.6},{"s":5,"x":141.3,"y":19.1,"e":0.6},{"s":5,"x":177.8,"y":18.2,"e":0.6},{"s":5,"x":223.9,"y":17.8,"e":0.6},{"s":5,"x":281.8,"y":16.9,"e":0.6},{"s":5,"x":354.8,"y":17.2,"e":0.6},{"s":5,"x":446.7,"y":17.2,"e":0.6},{"s":5,"x":562.3,"y":17.6,"e":0.6},{"s":5,"x":707.9,"y":18.8,"e":0.6},{"s":5,"x":891.3,"y":17.9,"e":0.6},
{"s":5,"x":1122,"y":18.6,"e":0.6},{"s":5,"x":1413,"y":18.1,"e":0.6},{"s":5,"x":1778,"y":18.6,"e":0.6},{"s":5,"x":2239,"y":18.1,"e":0.6},{"s":5,"x":2818,"y":18.2,"e":0.6},{"s":5,"x":3548,"y":17.6,"e":0.6},{"s":5,"x":4467,"y":19.0,"e":0.6},{"s":5,"x":5623,"y":18.8,"e":0.6},{"s":5,"x":7079,"y":18.8,"e":0.6},{"s":5,"x":8913,"y":18.8,"e":0.6},
{"s":5,"x":11220,"y":19.1,"e":0.6},{"s":5,"x":14130,"y":18.2,"e":0.6},{"s":5,"x":17780,"y":17.6,"e":0.6},{"s":5,"x":22390,"y":19.5,"e":0.6},{"s":5,"x":28180,"y":19.1,"e":0.6},{"s":5,"x":35480,"y":19.1,"e":0.6},{"s":5,"x":44670,"y":19.0,"e":0.6},{"s":5,"x":56230,"y":18.4,"e":0.6},{"s":5,"x":70790,"y":20.1,"e":0.6},{"s":5,"x":89130,"y":20.1,"e":0.6}
]
},
"vconcat":[
{
"width":481,"height":244,
"resolve":{"axis":{"x":"independent","y":"independent"}},
"layer":[
{"data":{"name":"p1lines"},"mark":{"type":"line","color":"black","strokeWidth":1,"interpolate":"monotone"},
"encoding":{
"x":{"field":"x","type":"quantitative","scale":{"type":"log","domain":[1,10000]},"axis":{"orient":"bottom","values":[1,10,100,1000,10000],"labelExpr":"datum.value == 1 ? '1' : datum.value == 10 ? '10' : datum.value == 100 ? '10²' : datum.value == 1000 ? '10³' : '10⁴'","tickSize":-11,"labelPadding":25,"title":"Energy (MeV)","titleFontWeight":"normal","titlePadding":2}},
"y":{"field":"y","type":"quantitative","scale":{"domain":[0,5],"nice":false,"zero":false,"clamp":true},"axis":{"orient":"left","values":[0,1,2,3,4,5],"tickSize":-11,"labelPadding":26,"title":"Energy Deposit (MeV)","titleFontWeight":"normal","titlePadding":27}},
"detail":{"field":"s"}}},
{"data":{"name":"p1pts"},"mark":{"type":"errorbar","color":"#222","thickness":1},
"encoding":{"x":{"field":"x","type":"quantitative","axis":null},"y":{"field":"y","type":"quantitative","axis":null},"yError":{"field":"e"}}},
{"data":{"name":"p1pts"},"mark":{"type":"point","filled":true,"strokeWidth":1,"size":55,"opacity":1},
"encoding":{
"x":{"field":"x","type":"quantitative","axis":{"orient":"bottom","values":[2,3,4,5,6,7,8,9,20,30,40,50,60,70,80,90,200,300,400,500,600,700,800,900,2000,3000,4000,5000,6000,7000,8000,9000],"labels":false,"tickSize":-7,"title":null}},
"y":{"field":"y","type":"quantitative","axis":{"orient":"left","values":[0.2,0.4,0.6,0.8,1.2,1.4,1.6,1.8,2.2,2.4,2.6,2.8,3.2,3.4,3.6,3.8,4.2,4.4,4.6,4.8],"labels":false,"tickSize":-6,"title":null}},
"shape":{"field":"s","type":"nominal","scale":{"domain":[1,2,3,4,5],"range":["circle","circle","square","square","triangle-up"]},"legend":{"legendX":17,"labelExpr":"['1.00\u2007≦\u2007sec\u2009ϑ\u2007<\u20071.05','1.20\u2007≦\u2007sec\u2009ϑ\u2007<\u20071.25','1.40\u2007≦\u2007sec\u2009ϑ\u2007<\u20071.45','1.60\u2007≦\u2007sec\u2009ϑ\u2007<\u20071.65','1.80\u2007≦\u2007sec\u2009ϑ\u2007<\u20071.85'][datum.value - 1]"}},
"fill":{"field":"s","type":"nominal","scale":{"domain":[1,2,3,4,5],"range":["#000000","transparent","#000000","transparent","#000000"]},"legend":{"legendX":17,"labelExpr":"['1.00\u2007≦\u2007sec\u2009ϑ\u2007<\u20071.05','1.20\u2007≦\u2007sec\u2009ϑ\u2007<\u20071.25','1.40\u2007≦\u2007sec\u2009ϑ\u2007<\u20071.45','1.60\u2007≦\u2007sec\u2009ϑ\u2007<\u20071.65','1.80\u2007≦\u2007sec\u2009ϑ\u2007<\u20071.85'][datum.value - 1]"}},
"stroke":{"field":"s","type":"nominal","scale":{"domain":[1,2,3,4,5],"range":["#000000","#000000","#000000","#000000","#000000"]},"legend":{"legendX":17,"labelExpr":"['1.00\u2007≦\u2007sec\u2009ϑ\u2007<\u20071.05','1.20\u2007≦\u2007sec\u2009ϑ\u2007<\u20071.25','1.40\u2007≦\u2007sec\u2009ϑ\u2007<\u20071.45','1.60\u2007≦\u2007sec\u2009ϑ\u2007<\u20071.65','1.80\u2007≦\u2007sec\u2009ϑ\u2007<\u20071.85'][datum.value - 1]"}}}},
{"data":{"values":[{"label":"γ−rays"}]},"mark":{"type":"text","align":"right","baseline":"alphabetic","font":"DejaVu Sans","fontSize":23,"color":"#333"},
"encoding":{"x":{"datum":6800,"type":"quantitative","axis":null},"y":{"datum":0.39,"type":"quantitative","axis":null},"text":{"field":"label"}}}
]
},
{
"width":481,"height":244,
"resolve":{"axis":{"x":"independent","y":"independent"}},
"layer":[
{"data":{"name":"p2lines"},"mark":{"type":"line","color":"black","strokeWidth":1},
"encoding":{
"x":{"field":"x","type":"quantitative","scale":{"type":"log","domain":[1,10000]},"axis":{"orient":"bottom","values":[1,10,100,1000,10000],"labelExpr":"datum.value == 1 ? '1' : datum.value == 10 ? '10' : datum.value == 100 ? '10²' : datum.value == 1000 ? '10³' : '10⁴'","tickSize":-11,"labelPadding":25,"title":"Kinetic Energy (MeV)","titleFontWeight":"normal","titlePadding":7}},
"y":{"field":"y","type":"quantitative","scale":{"domain":[0,35],"nice":false,"zero":false,"clamp":true},"axis":{"orient":"left","values":[0,10,20,30],"tickSize":-11,"labelPadding":26,"title":"Energy Deposit (MeV)","titleFontWeight":"normal","titlePadding":18}},
"detail":{"field":"s"}}},
{"data":{"name":"p2pts"},"mark":{"type":"errorbar","color":"#222","thickness":1},
"encoding":{"x":{"field":"x","type":"quantitative","axis":null},"y":{"field":"y","type":"quantitative","axis":null},"yError":{"field":"e"}}},
{"data":{"name":"p2pts"},"mark":{"type":"point","filled":true,"strokeWidth":1,"size":55,"opacity":1},
"encoding":{
"x":{"field":"x","type":"quantitative","axis":{"orient":"bottom","values":[2,3,4,5,6,7,8,9,20,30,40,50,60,70,80,90,200,300,400,500,600,700,800,900,2000,3000,4000,5000,6000,7000,8000,9000],"labels":false,"tickSize":-7,"title":null}},
"y":{"field":"y","type":"quantitative","axis":{"orient":"left","values":[2,4,6,8,12,14,16,18,22,24,26,28,32,34],"labels":false,"tickSize":-6,"title":null}},
"shape":{"field":"s","type":"nominal","scale":{"domain":[1,2,3,4,5],"range":["circle","circle","square","square","triangle-up"]},"legend":{"legendX":17,"labelExpr":"['1.00\u2007≦\u2007sec\u2009ϑ\u2007<\u20071.05','1.20\u2007≦\u2007sec\u2009ϑ\u2007<\u20071.25','1.40\u2007≦\u2007sec\u2009ϑ\u2007<\u20071.45','1.60\u2007≦\u2007sec\u2009ϑ\u2007<\u20071.65','1.80\u2007≦\u2007sec\u2009ϑ\u2007<\u20071.85'][datum.value - 1]"}},
"fill":{"field":"s","type":"nominal","scale":{"domain":[1,2,3,4,5],"range":["#000000","transparent","#000000","transparent","#000000"]},"legend":{"legendX":17,"labelExpr":"['1.00\u2007≦\u2007sec\u2009ϑ\u2007<\u20071.05','1.20\u2007≦\u2007sec\u2009ϑ\u2007<\u20071.25','1.40\u2007≦\u2007sec\u2009ϑ\u2007<\u20071.45','1.60\u2007≦\u2007sec\u2009ϑ\u2007<\u20071.65','1.80\u2007≦\u2007sec\u2009ϑ\u2007<\u20071.85'][datum.value - 1]"}},
"stroke":{"field":"s","type":"nominal","scale":{"domain":[1,2,3,4,5],"range":["#000000","#000000","#000000","#000000","#000000"]},"legend":{"legendX":17,"labelExpr":"['1.00\u2007≦\u2007sec\u2009ϑ\u2007<\u20071.05','1.20\u2007≦\u2007sec\u2009ϑ\u2007<\u20071.25','1.40\u2007≦\u2007sec\u2009ϑ\u2007<\u20071.45','1.60\u2007≦\u2007sec\u2009ϑ\u2007<\u20071.65','1.80\u2007≦\u2007sec\u2009ϑ\u2007<\u20071.85'][datum.value - 1]"}}}},
{"data":{"values":[{"label":"Electrons"}]},"mark":{"type":"text","align":"right","baseline":"alphabetic","font":"DejaVu Sans","fontSize":23,"color":"#333"},
"encoding":{"x":{"datum":6400,"type":"quantitative","axis":null},"y":{"datum":2.4,"type":"quantitative","axis":null},"text":{"field":"label"}}}
]
},
{
"width":481,"height":244,
"resolve":{"axis":{"x":"independent","y":"independent"}},
"layer":[
{"data":{"name":"p3lines"},"mark":{"type":"line","color":"black","strokeWidth":1},
"encoding":{
"x":{"field":"x","type":"quantitative","scale":{"type":"log","domain":[10,100000]},"axis":{"orient":"bottom","values":[10,100,1000,10000,100000],"labelExpr":"datum.value == 10 ? '' : datum.value == 100 ? '10²' : datum.value == 1000 ? '10³' : datum.value == 10000 ? '10⁴' : '10⁵'","tickSize":-11,"labelPadding":25,"title":"Kinetic Energy (MeV)","titleFontWeight":"normal","titlePadding":9}},
"y":{"field":"y","type":"quantitative","scale":{"domain":[0,50],"nice":false,"zero":false,"clamp":true},"axis":{"orient":"left","values":[0,20,40],"tickSize":-11,"labelPadding":26,"title":"Energy Deposit (MeV)","titleFontWeight":"normal","titlePadding":18}},
"detail":{"field":"s"}}},
{"data":{"name":"p3pts"},"mark":{"type":"errorbar","color":"#222","thickness":1},
"encoding":{"x":{"field":"x","type":"quantitative","axis":null},"y":{"field":"y","type":"quantitative","axis":null},"yError":{"field":"e"}}},
{"data":{"name":"p3pts"},"mark":{"type":"point","filled":true,"strokeWidth":1,"size":55,"opacity":1},
"encoding":{
"x":{"field":"x","type":"quantitative","axis":{"orient":"bottom","values":[20,30,40,50,60,70,80,90,200,300,400,500,600,700,800,900,2000,3000,4000,5000,6000,7000,8000,9000,20000,30000,40000,50000,60000,70000,80000,90000],"labels":false,"tickSize":-7,"title":null}},
"y":{"field":"y","type":"quantitative","axis":{"orient":"left","values":[5,10,15,25,30,35,45],"labels":false,"tickSize":-6,"title":null}},
"shape":{"field":"s","type":"nominal","scale":{"domain":[1,2,3,4,5],"range":["circle","circle","square","square","triangle-up"]},"legend":{"legendX":273,"labelExpr":"['1.00\u2007≦\u2007sec\u2009ϑ\u2007<\u20071.05','1.20\u2007≦\u2007sec\u2009ϑ\u2007<\u20071.25','1.40\u2007≦\u2007sec\u2009ϑ\u2007<\u20071.45','1.60\u2007≦\u2007sec\u2009ϑ\u2007<\u20071.65','1.80\u2007≦\u2007sec\u2009ϑ\u2007<\u20071.85'][datum.value - 1]"}},
"fill":{"field":"s","type":"nominal","scale":{"domain":[1,2,3,4,5],"range":["#000000","transparent","#000000","transparent","#000000"]},"legend":{"legendX":273,"labelExpr":"['1.00\u2007≦\u2007sec\u2009ϑ\u2007<\u20071.05','1.20\u2007≦\u2007sec\u2009ϑ\u2007<\u20071.25','1.40\u2007≦\u2007sec\u2009ϑ\u2007<\u20071.45','1.60\u2007≦\u2007sec\u2009ϑ\u2007<\u20071.65','1.80\u2007≦\u2007sec\u2009ϑ\u2007<\u20071.85'][datum.value - 1]"}},
"stroke":{"field":"s","type":"nominal","scale":{"domain":[1,2,3,4,5],"range":["#000000","#000000","#000000","#000000","#000000"]},"legend":{"legendX":273,"labelExpr":"['1.00\u2007≦\u2007sec\u2009ϑ\u2007<\u20071.05','1.20\u2007≦\u2007sec\u2009ϑ\u2007<\u20071.25','1.40\u2007≦\u2007sec\u2009ϑ\u2007<\u20071.45','1.60\u2007≦\u2007sec\u2009ϑ\u2007<\u20071.65','1.80\u2007≦\u2007sec\u2009ϑ\u2007<\u20071.85'][datum.value - 1]"}}}},
{"data":{"values":[{"label":"Muons"}]},"mark":{"type":"text","align":"right","baseline":"alphabetic","font":"DejaVu Sans","fontSize":23,"color":"#333"},
"encoding":{"x":{"datum":70000,"type":"quantitative","axis":null},"y":{"datum":3.3,"type":"quantitative","axis":null},"text":{"field":"label"}}}
]
}
]
}
